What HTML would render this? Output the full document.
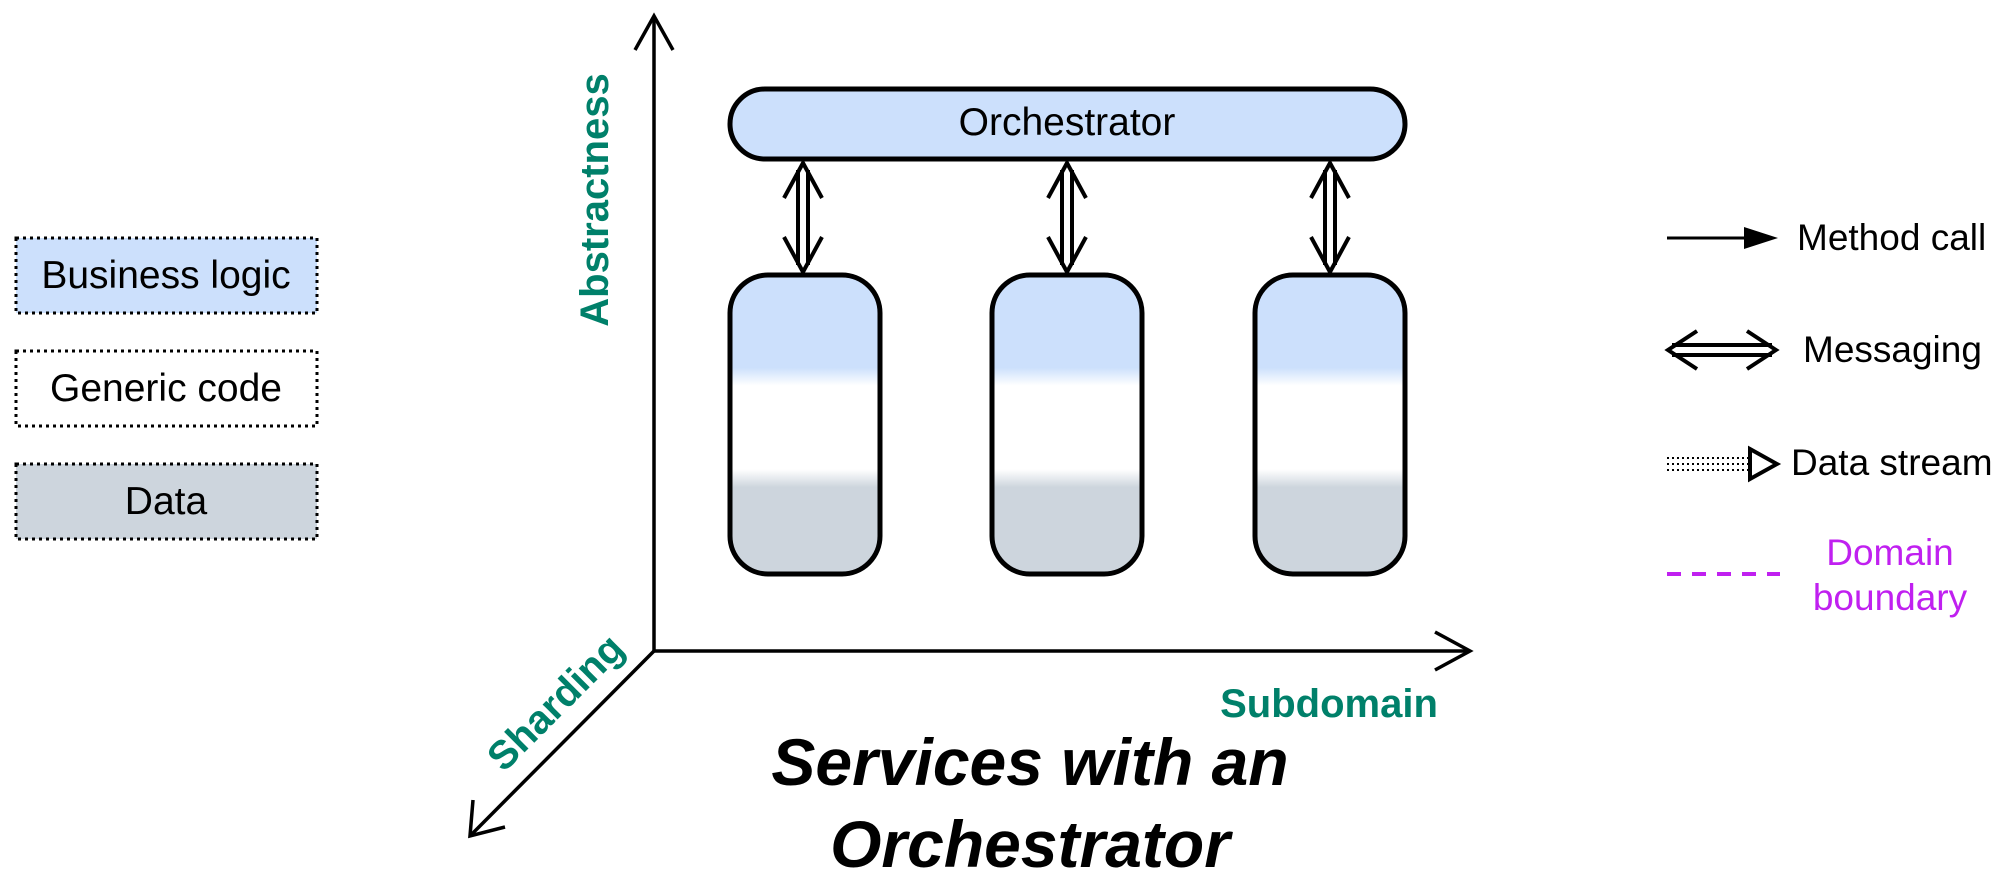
<!DOCTYPE html>
<html><head><meta charset="utf-8"><style>
html,body{margin:0;padding:0;background:#fff;}
svg{display:block;}
text{font-family:"Liberation Sans",sans-serif;}
</style></head><body>
<svg width="2008" height="885" viewBox="0 0 2008 885" xmlns="http://www.w3.org/2000/svg">
<defs>
<linearGradient id="g" x1="0" y1="0" x2="0" y2="1">
<stop offset="0" stop-color="#cce0fc"/>
<stop offset="0.31" stop-color="#cce0fc"/>
<stop offset="0.37" stop-color="#ffffff"/>
<stop offset="0.65" stop-color="#ffffff"/>
<stop offset="0.71" stop-color="#cdd5dd"/>
<stop offset="1" stop-color="#cdd5dd"/>
</linearGradient>
</defs>
<!-- left legend -->
<rect x="16" y="238" width="301" height="75" fill="#cce0fc" stroke="#000" stroke-width="3" stroke-dasharray="3,4"/>
<text x="166" y="288" font-size="39" text-anchor="middle">Business logic</text>
<rect x="16" y="351" width="301" height="75" fill="#fff" stroke="#000" stroke-width="3" stroke-dasharray="3,4"/>
<text x="166" y="401" font-size="39" text-anchor="middle">Generic code</text>
<rect x="16" y="464" width="301" height="75" fill="#cdd5dd" stroke="#000" stroke-width="3" stroke-dasharray="3,4"/>
<text x="166" y="514" font-size="39" text-anchor="middle">Data</text>
<!-- axes -->
<g stroke="#000" stroke-width="3.5" fill="none">
<line x1="654" y1="16" x2="654" y2="651"/>
<polyline points="635,50 654,16 673,50"/>
<line x1="654" y1="651" x2="1470" y2="651"/>
<polyline points="1435,632 1470,651 1435,670"/>
<line x1="654" y1="651" x2="470" y2="836"/>
<polyline points="473,800 470,836 505,827"/>
</g>
<text transform="translate(608,200) rotate(-90)" font-size="40" font-weight="bold" fill="#00806a" text-anchor="middle">Abstractness</text>
<text transform="translate(565,712) rotate(-45)" font-size="40" font-weight="bold" fill="#00806a" text-anchor="middle">Sharding</text>
<text x="1329" y="717" font-size="40" font-weight="bold" fill="#00806a" text-anchor="middle">Subdomain</text>
<text x="1030" y="785" font-size="66" font-weight="bold" font-style="italic" text-anchor="middle">Services with an</text>
<text x="1030" y="867" font-size="66" font-weight="bold" font-style="italic" text-anchor="middle">Orchestrator</text>
<!-- orchestrator -->
<rect x="730" y="89" width="675" height="70" rx="35" fill="#cce0fc" stroke="#000" stroke-width="5"/>
<text x="1067" y="135" font-size="39" text-anchor="middle">Orchestrator</text>
<!-- services -->
<rect x="730" y="275" width="150" height="299" rx="38" fill="url(#g)" stroke="#000" stroke-width="5"/>
<rect x="992" y="275" width="150" height="299" rx="38" fill="url(#g)" stroke="#000" stroke-width="5"/>
<rect x="1255" y="275" width="150" height="299" rx="38" fill="url(#g)" stroke="#000" stroke-width="5"/>
<!-- double arrows -->
<g stroke="#000" stroke-width="4" fill="none">
<g transform="translate(803,0)">
<line x1="-5" y1="170" x2="-5" y2="265"/><line x1="5" y1="170" x2="5" y2="265"/>
<polyline points="-19,198 0,163 19,198"/><polyline points="-19,237 0,272 19,237"/>
</g>
<g transform="translate(1067,0)">
<line x1="-5" y1="170" x2="-5" y2="265"/><line x1="5" y1="170" x2="5" y2="265"/>
<polyline points="-19,198 0,163 19,198"/><polyline points="-19,237 0,272 19,237"/>
</g>
<g transform="translate(1330,0)">
<line x1="-5" y1="170" x2="-5" y2="265"/><line x1="5" y1="170" x2="5" y2="265"/>
<polyline points="-19,198 0,163 19,198"/><polyline points="-19,237 0,272 19,237"/>
</g>
</g>
<!-- right legend -->
<line x1="1667" y1="238" x2="1745" y2="238" stroke="#000" stroke-width="3"/>
<polygon points="1744,227 1778,238 1744,249" fill="#000"/>
<text x="1797" y="250" font-size="37">Method call</text>
<g stroke="#000" stroke-width="4" fill="none">
<line x1="1672" y1="345" x2="1772" y2="345"/><line x1="1672" y1="355" x2="1772" y2="355"/>
<polyline points="1697,331 1668,350 1697,369"/><polyline points="1747,331 1776,350 1747,369"/>
</g>
<text x="1803" y="362" font-size="37">Messaging</text>
<g stroke="#000" stroke-width="2" stroke-dasharray="2,3" fill="none">
<line x1="1667" y1="458" x2="1748" y2="458"/><line x1="1667" y1="464" x2="1748" y2="464"/><line x1="1667" y1="470" x2="1748" y2="470"/>
</g>
<polygon points="1750,449 1777,464 1750,479" fill="#fff" stroke="#000" stroke-width="4"/>
<text x="1791" y="475" font-size="37">Data stream</text>
<line x1="1667" y1="574" x2="1780" y2="574" stroke="#c020f0" stroke-width="4" stroke-dasharray="14,11"/>
<text x="1890" y="565" font-size="37" fill="#c020f0" text-anchor="middle">Domain</text>
<text x="1890" y="610" font-size="37" fill="#c020f0" text-anchor="middle">boundary</text>
</svg>
</body></html>
